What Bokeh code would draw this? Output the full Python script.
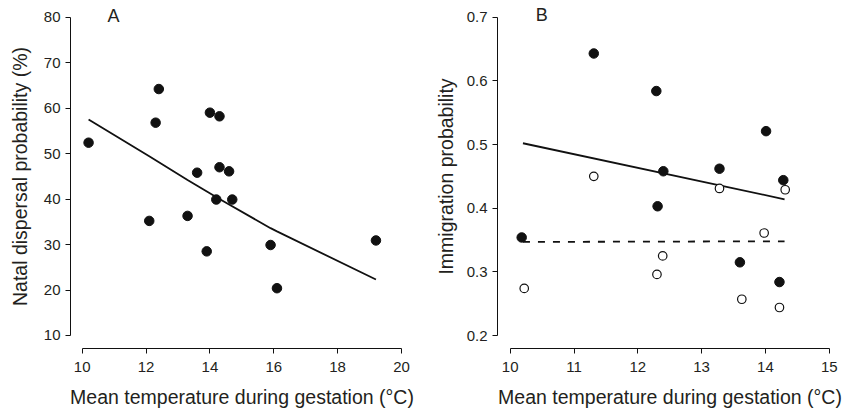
from bokeh.plotting import figure
from bokeh.layouts import row
from bokeh.models import FixedTicker, Range1d, Label
from bokeh.embed import file_html
from bokeh.resources import INLINE

# ---- Panel A data ----
a_temp = [10.2, 12.1, 12.3, 12.4, 13.3, 13.6, 13.9, 14.0, 14.2, 14.3, 14.3, 14.6, 14.7, 15.9, 16.1, 19.2]
a_disp = [52.4, 35.2, 56.8, 64.2, 36.3, 45.8, 28.5, 59.0, 39.9, 58.2, 47.0, 46.1, 39.9, 29.9, 20.4, 30.9]
a_fit_x = [10.2, 12.1, 13.3, 14.3, 15.9, 16.1, 19.2]
a_fit_y = [57.5, 49.4, 44.2, 40.0, 33.6, 32.9, 22.3]
a_xticks = [10, 12, 14, 16, 18, 20]
a_yticks = [10, 20, 30, 40, 50, 60, 70, 80]

# ---- Panel B data ----
b_filled_x = [10.18, 11.31, 12.29, 12.31, 12.40, 13.28, 13.60, 14.01, 14.22, 14.28]
b_filled_y = [0.354, 0.643, 0.584, 0.403, 0.458, 0.462, 0.315, 0.521, 0.284, 0.444]
b_open_x = [10.22, 11.31, 12.30, 12.39, 13.28, 13.63, 13.98, 14.22, 14.31]
b_open_y = [0.274, 0.450, 0.296, 0.325, 0.431, 0.257, 0.361, 0.244, 0.429]
b_solid_x = [10.2, 14.3]
b_solid_y = [0.502, 0.414]
b_dash_x = [10.2, 14.3]
b_dash_y = [0.347, 0.348]
b_xticks = [10, 11, 12, 13, 14, 15]
b_yticks = [0.2, 0.3, 0.4, 0.5, 0.6, 0.7]
b_ytick_labels = ["0.2", "0.3", "0.4", "0.5", "0.6", "0.7"]

x_label = "Mean temperature during gestation (°C)"
FONT = "Liberation Sans"
TXT = "#231f20"


def style(p, xticks, yticks, xb, yb, ylabel, ystand):
    p.grid.visible = False
    p.outline_line_color = None
    p.background_fill_color = "white"
    p.border_fill_color = "white"
    for ax in (p.xaxis[0], p.yaxis[0]):
        ax.axis_line_color = "#111111"
        ax.axis_line_width = 1
        ax.major_tick_line_color = "#111111"
        ax.major_tick_line_width = 1
        ax.major_tick_out = 5
        ax.major_tick_in = 0
        ax.minor_tick_line_color = None
        ax.major_label_text_font = FONT
        ax.major_label_text_font_size = "15px"
        ax.major_label_text_color = TXT
        ax.axis_label_text_font = FONT
        ax.axis_label_text_font_size = "19.5px"
        ax.axis_label_text_font_style = "normal"
        ax.axis_label_text_color = TXT
    p.xaxis[0].major_label_standoff = 8
    p.yaxis[0].major_label_standoff = 5
    p.xaxis[0].ticker = FixedTicker(ticks=xticks)
    p.yaxis[0].ticker = FixedTicker(ticks=yticks)
    p.xaxis[0].bounds = xb
    p.yaxis[0].bounds = yb
    p.xaxis[0].axis_label = x_label
    p.yaxis[0].axis_label = ylabel
    p.xaxis[0].axis_label_standoff = 11
    p.yaxis[0].axis_label_standoff = ystand


# ---- Figure A ----
pa = figure(width=415, height=410, output_backend="svg", toolbar_location=None,
            x_range=Range1d(9.634, 20.376), y_range=Range1d(7.14, 82.79),
            min_border_left=70, min_border_right=2, min_border_top=4, min_border_bottom=62)
style(pa, a_xticks, a_yticks, (10, 20), (10, 80), "Natal dispersal probability (%)", 10)
pa.line(a_fit_x, a_fit_y, line_color="#111111", line_width=1.8)
pa.scatter(a_temp, a_disp, size=9.5, fill_color="#111111", line_color="#111111")
pa.add_layout(Label(x=10.79, y=78.17, text="A", text_font=FONT, text_font_size="18px",
                    text_color=TXT))

# ---- Figure B ----
pb = figure(width=431, height=410, output_backend="svg", toolbar_location=None,
            x_range=Range1d(9.801, 15.208), y_range=Range1d(0.1796, 0.71995),
            min_border_left=82, min_border_right=4, min_border_top=4, min_border_bottom=62)
style(pb, b_xticks, b_yticks, (10, 15), (0.2, 0.7), "Immigration probability", 7)
pb.yaxis[0].major_label_overrides = {t: s for t, s in zip(b_yticks, b_ytick_labels)}
pb.line(b_solid_x, b_solid_y, line_color="#111111", line_width=1.8)
pb.line(b_dash_x, b_dash_y, line_color="#111111", line_width=1.8, line_dash="7 8")
pb.scatter(b_filled_x, b_filled_y, size=9.5, fill_color="#111111", line_color="#111111")
pb.scatter(b_open_x, b_open_y, size=8.5, fill_color="white", line_color="#111111", line_width=1.2)
pb.add_layout(Label(x=10.40, y=0.6885, text="B", text_font=FONT, text_font_size="18px",
                    text_color=TXT))

layout = row(pa, pb)
open("out.html", "w").write(file_html(layout, INLINE))
